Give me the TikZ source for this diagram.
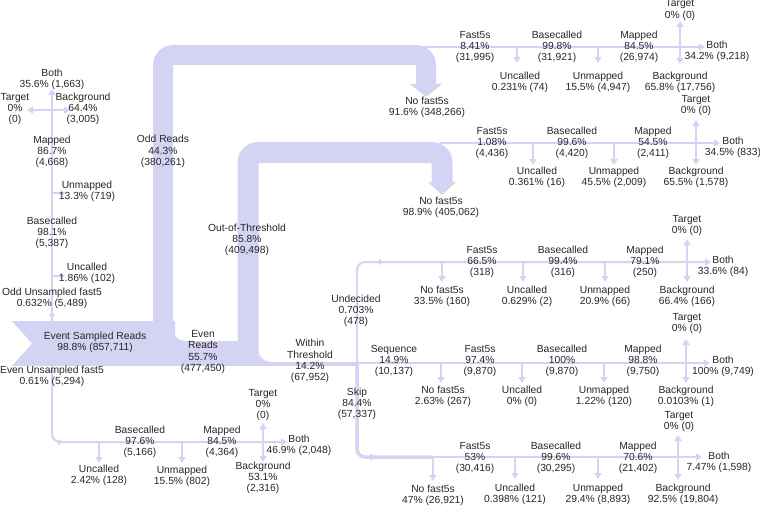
\documentclass[tikz,border=0pt]{standalone}
\usepackage{fontspec}
\setmainfont{Liberation Sans}
\usetikzlibrary{arrows.meta}
\definecolor{band}{RGB}{213,211,244}
\definecolor{txt}{RGB}{38,38,38}
\begin{document}
\begin{tikzpicture}[x=1pt,y=-1pt,
  lab/.style={font=\fontsize{10.3}{11.3}\selectfont, text=txt, align=center, inner sep=0pt},
  flow/.style={draw=band, line width=2pt},
  tip/.style={-{Triangle[width=7pt,length=6pt]}},
  wide/.style={draw=band, line width=#1},
  mk/.style={fill=band}
]
\useasboundingbox (0,0) rectangle (760,508);

% ---------------- thick bands ----------------
\coordinate (mA) at (12,321);
\coordinate (mB) at (175,321);
\coordinate (mC) at (175,366);
\coordinate (mD) at (12,366);
\coordinate (mN) at (32,343.5);
\fill[band] (mA) -- (mB) -- (mC) -- (mD) -- (mN) -- cycle;
% odd reads band
\coordinate (oS) at (163,335);
\coordinate (oC1) at (163,55);
\coordinate (oC2) at (426,55);
\coordinate (oE) at (426,85);
\draw[wide=20pt, rounded corners=10pt] (oS) -- (oC1) -- (oC2) -- (oE);
\fill[band] (410,84) -- (442,84) -- (426,97) -- cycle;
\fill[band] (173,329) .. controls (173,335.6) and (178.4,341) .. (185,341) -- (173,341) -- cycle;
% even band
\coordinate (eA) at (170,341);
\coordinate (eB) at (250,366);
\fill[band] (eA) rectangle (eB);
% out of threshold band
\coordinate (tS) at (248,362);
\coordinate (tC1) at (248,152.5);
\coordinate (tC2) at (442,152.5);
\coordinate (tE) at (442,183);
\draw[wide=21pt, rounded corners=10pt] (tS) -- (tC1) -- (tC2) -- (tE);
\fill[band] (428,182) -- (456,182) -- (442,195) -- cycle;
\fill[band] (258.5,350) .. controls (258.5,356.6) and (263.9,362) .. (270.5,362) -- (258.5,362) -- cycle;
% within threshold
\coordinate (wS) at (248,364);
\coordinate (wJ) at (357,364);
\draw[wide=4pt] (wS) -- (wJ);

% ---------------- left column (odd unsampled) ----------------
\coordinate (ouS) at (52,330);
\coordinate (ouE) at (52,89);
\coordinate (ouJ1) at (52,276);
\coordinate (ouJ1t) at (65,276);
\coordinate (ouJ2) at (52,193);
\coordinate (ouJ2t) at (65,193);
\coordinate (ouJ3) at (52,110);
\coordinate (ouJ3a) at (27,110);
\coordinate (ouJ3b) at (70,110);
\draw[flow,tip] (ouS) -- (ouE);
\draw[flow,-{Triangle[width=6pt,length=5pt]}] (ouJ1) -- (ouJ1t);
\draw[flow,-{Triangle[width=6pt,length=5pt]}] (ouJ2) -- (ouJ2t);
\draw[flow,tip] (ouJ3) -- (ouJ3a);
\draw[flow,tip] (ouJ3) -- (ouJ3b);
\fill[mk] (49,316) -- (55,316) -- (52,311) -- cycle;

% ---------------- bottom left (even unsampled) ----------------
\coordinate (euS) at (52,360);
\coordinate (euC) at (52,442);
\coordinate (euE) at (287,442);
\coordinate (euJ1) at (99,442);
\coordinate (euJ1t) at (99,463);
\coordinate (euJ2) at (182,442);
\coordinate (euJ2t) at (182,463);
\coordinate (euJ3) at (263,442);
\coordinate (euJ3a) at (263,423);
\coordinate (euJ3b) at (263,462);
\draw[flow,tip,rounded corners=8pt] (euS) -- (euC) -- (euE);
\draw[flow,tip] (euJ1) -- (euJ1t);
\draw[flow,tip] (euJ2) -- (euJ2t);
\draw[flow,tip] (euJ3) -- (euJ3a);
\draw[flow,tip] (euJ3) -- (euJ3b);
\fill[mk] (49,370) -- (55,370) -- (52,375) -- cycle;
\fill[mk] (58,439) -- (58,445) -- (63,442) -- cycle;

% ---------------- row 1 ----------------
\coordinate (r1S) at (425,47);
\coordinate (r1U) at (517,47);
\coordinate (r1Ut) at (517,63);
\coordinate (r1M) at (598,47);
\coordinate (r1Mt) at (598,63);
\coordinate (r1X) at (680,47);
\coordinate (r1Xt) at (680,21);
\coordinate (r1Xb) at (680,64);
\coordinate (r1E) at (705,47);
\draw[flow,tip] (r1S) -- (r1E);
\draw[flow,tip] (r1U) -- (r1Ut);
\draw[flow,tip] (r1M) -- (r1Mt);
\draw[flow,tip] (r1X) -- (r1Xt);
\draw[flow,tip] (r1X) -- (r1Xb);

% ---------------- row 2 ----------------
\coordinate (r2S) at (440,143);
\coordinate (r2U) at (533,143);
\coordinate (r2Ut) at (533,165);
\coordinate (r2M) at (614,143);
\coordinate (r2Mt) at (614,165);
\coordinate (r2X) at (696,143);
\coordinate (r2Xt) at (696,120);
\coordinate (r2Xb) at (696,165);
\coordinate (r2E) at (720,143);
\draw[flow,tip] (r2S) -- (r2E);
\draw[flow,tip] (r2U) -- (r2Ut);
\draw[flow,tip] (r2M) -- (r2Mt);
\draw[flow,tip] (r2X) -- (r2Xt);
\draw[flow,tip] (r2X) -- (r2Xb);

% ---------------- row 3 (undecided) ----------------
\coordinate (r3C) at (357,262);
\coordinate (r3N) at (442,262);
\coordinate (r3Nt) at (442,282);
\coordinate (r3U) at (523,262);
\coordinate (r3Ut) at (523,282);
\coordinate (r3M) at (605,262);
\coordinate (r3Mt) at (605,282);
\coordinate (r3X) at (687,262);
\coordinate (r3Xt) at (687,239);
\coordinate (r3Xb) at (687,282);
\coordinate (r3E) at (711,262);
\draw[flow,tip,rounded corners=8pt] (wJ) -- (r3C) -- (r3E);
\draw[flow,tip] (r3N) -- (r3Nt);
\draw[flow,tip] (r3U) -- (r3Ut);
\draw[flow,tip] (r3M) -- (r3Mt);
\draw[flow,tip] (r3X) -- (r3Xt);
\draw[flow,tip] (r3X) -- (r3Xb);
\fill[mk] (379,259) -- (379,265) -- (384,262) -- cycle;

% ---------------- row 4 (sequence) ----------------
\coordinate (r4S) at (357,363);
\coordinate (r4N) at (441,363);
\coordinate (r4Nt) at (441,383);
\coordinate (r4U) at (522,363);
\coordinate (r4Ut) at (522,383);
\coordinate (r4M) at (604,363);
\coordinate (r4Mt) at (604,383);
\coordinate (r4X) at (686,363);
\coordinate (r4Xt) at (686,339);
\coordinate (r4Xb) at (686,383);
\coordinate (r4E) at (710,363);
\draw[flow,tip] (r4S) -- (r4E);
\draw[flow,tip] (r4N) -- (r4Nt);
\draw[flow,tip] (r4U) -- (r4Ut);
\draw[flow,tip] (r4M) -- (r4Mt);
\draw[flow,tip] (r4X) -- (r4Xt);
\draw[flow,tip] (r4X) -- (r4Xb);

% ---------------- row 5 (skip) ----------------
\coordinate (r5C) at (357,457);
\coordinate (r5N) at (433,457);
\coordinate (r5Nt) at (433,481);
\coordinate (r5U) at (515,457);
\coordinate (r5Ut) at (515,479);
\coordinate (r5M) at (598,457);
\coordinate (r5Mt) at (598,479);
\coordinate (r5X) at (678,457);
\coordinate (r5Xt) at (678,435);
\coordinate (r5Xb) at (678,480);
\coordinate (r5E) at (702,457);
\draw[wide=3.5pt,rounded corners=8pt] (wJ) -- (r5C) -- (r5N);
\draw[flow,tip] (r5N) -- (r5E);
\draw[flow,tip] (r5N) -- (r5Nt);
\draw[flow,tip] (r5U) -- (r5Ut);
\draw[flow,tip] (r5M) -- (r5Mt);
\draw[flow,tip] (r5X) -- (r5Xt);
\draw[flow,tip] (r5X) -- (r5Xb);
\fill[mk] (370,453.5) -- (370,460.5) -- (376,457) -- cycle;

% ---------------- labels: main ----------------
\node[lab] (esr) at (95,342.5) {Event Sampled Reads\\98.8\% (857,711)};
\node[lab] (odd) at (163,151.5) {Odd Reads\\44.3\%\\(380,261)};
\node[lab] (nf1) at (427,107) {No fast5s\\91.6\% (348,266)};
\node[lab] (oot) at (247,240) {Out-of-Threshold\\85.8\%\\(409,498)};
\node[lab] (nf2) at (441,207) {No fast5s\\98.9\% (405,062)};
\node[lab] (even) at (203,352) {Even\\Reads\\55.7\%\\(477,450)};
\node[lab] (within) at (310,361) {Within\\Threshold\\14.2\%\\(67,952)};

% left column
\node[lab] (ous) at (52,298.5) {Odd Unsampled fast5\\0.632\% (5,489)};
\node[lab] (ouunc) at (87,273.5) {Uncalled\\1.86\% (102)};
\node[lab] (oubc) at (52,233) {Basecalled\\98.1\%\\(5,387)};
\node[lab] (ouunm) at (87,191.5) {Unmapped\\13.3\% (719)};
\node[lab] (oumap) at (52,152) {Mapped\\86.7\%\\(4,668)};
\node[lab] (outar) at (15,109) {Target\\0\%\\(0)};
\node[lab] (oubg) at (83,109) {Background\\64.4\%\\(3,005)};
\node[lab] (ouboth) at (52,79.5) {Both\\35.6\% (1,663)};

% bottom left
\node[lab] (eus) at (52,376.5) {Even Unsampled fast5\\0.61\% (5,294)};
\node[lab] (eubc) at (140,442) {Basecalled\\97.6\%\\(5,166)};
\node[lab] (euunc) at (99,475.5) {Uncalled\\2.42\% (128)};
\node[lab] (euunm) at (182,476.5) {Unmapped\\15.5\% (802)};
\node[lab] (eumap) at (222,442) {Mapped\\84.5\%\\(4,364)};
\node[lab] (eutar) at (263,405) {Target\\0\%\\(0)};
\node[lab] (eubg) at (263,478) {Background\\53.1\%\\(2,316)};
\node[lab] (euboth) at (299,445.5) {Both\\46.9\% (2,048)};

% row 1
\node[lab] (r1f) at (475,47) {Fast5s\\8.41\%\\(31,995)};
\node[lab] (r1u) at (520,82.5) {Uncalled\\0.231\% (74)};
\node[lab] (r1b) at (557,47) {Basecalled\\99.8\%\\(31,921)};
\node[lab] (r1n) at (598,82.5) {Unmapped\\15.5\% (4,947)};
\node[lab] (r1m) at (639,47) {Mapped\\84.5\%\\(26,974)};
\node[lab] (r1t) at (680,10) {Target\\0\% (0)};
\node[lab] (r1g) at (680,82.5) {Background\\65.8\% (17,756)};
\node[lab] (r1h) at (717,51) {Both\\34.2\% (9,218)};

% row 2
\node[lab] (r2f) at (492,143) {Fast5s\\1.08\%\\(4,436)};
\node[lab] (r2u) at (537,177.5) {Uncalled\\0.361\% (16)};
\node[lab] (r2b) at (572,143) {Basecalled\\99.6\%\\(4,420)};
\node[lab] (r2n) at (614,177.5) {Unmapped\\45.5\% (2,009)};
\node[lab] (r2m) at (653,143) {Mapped\\54.5\%\\(2,411)};
\node[lab] (r2t) at (696,105.5) {Target\\0\% (0)};
\node[lab] (r2g) at (696,177.5) {Background\\65.5\% (1,578)};
\node[lab] (r2h) at (733,147.5) {Both\\34.5\% (833)};

% row 3
\node[lab] (r3d) at (356,311) {Undecided\\0.703\%\\(478)};
\node[lab] (r3x) at (442,296.5) {No fast5s\\33.5\% (160)};
\node[lab] (r3f) at (482,262) {Fast5s\\66.5\%\\(318)};
\node[lab] (r3u) at (527,296.5) {Uncalled\\0.629\% (2)};
\node[lab] (r3b) at (563,262) {Basecalled\\99.4\%\\(316)};
\node[lab] (r3n) at (605,296.5) {Unmapped\\20.9\% (66)};
\node[lab] (r3m) at (645,262) {Mapped\\79.1\%\\(250)};
\node[lab] (r3t) at (687,225.5) {Target\\0\% (0)};
\node[lab] (r3g) at (687,296.5) {Background\\66.4\% (166)};
\node[lab] (r3h) at (723,266.5) {Both\\33.6\% (84)};

% row 4
\node[lab] (r4s) at (394,361) {Sequence\\14.9\%\\(10,137)};
\node[lab] (r4x) at (443,396.5) {No fast5s\\2.63\% (267)};
\node[lab] (r4f) at (480,361) {Fast5s\\97.4\%\\(9,870)};
\node[lab] (r4u) at (522,396.5) {Uncalled\\0\% (0)};
\node[lab] (r4b) at (562,361) {Basecalled\\100\%\\(9,870)};
\node[lab] (r4n) at (604,396.5) {Unmapped\\1.22\% (120)};
\node[lab] (r4m) at (643,361) {Mapped\\98.8\%\\(9,750)};
\node[lab] (r4t) at (687,323.5) {Target\\0\% (0)};
\node[lab] (r4g) at (686,396.5) {Background\\0.0103\% (1)};
\node[lab] (r4h) at (723,366.5) {Both\\100\% (9,749)};

% row 5
\node[lab] (r5k) at (357,404) {Skip\\84.4\%\\(57,337)};
\node[lab] (r5x) at (433,495.5) {No fast5s\\47\% (26,921)};
\node[lab] (r5f) at (475,458) {Fast5s\\53\%\\(30,416)};
\node[lab] (r5u) at (515,494.5) {Uncalled\\0.398\% (121)};
\node[lab] (r5b) at (556,458) {Basecalled\\99.6\%\\(30,295)};
\node[lab] (r5n) at (598,494.5) {Unmapped\\29.4\% (8,893)};
\node[lab] (r5m) at (638,458) {Mapped\\70.6\%\\(21,402)};
\node[lab] (r5t) at (679,421.5) {Target\\0\% (0)};
\node[lab] (r5g) at (683,494.5) {Background\\92.5\% (19,804)};
\node[lab] (r5h) at (719,462.5) {Both\\7.47\% (1,598)};
\end{tikzpicture}
\end{document}
